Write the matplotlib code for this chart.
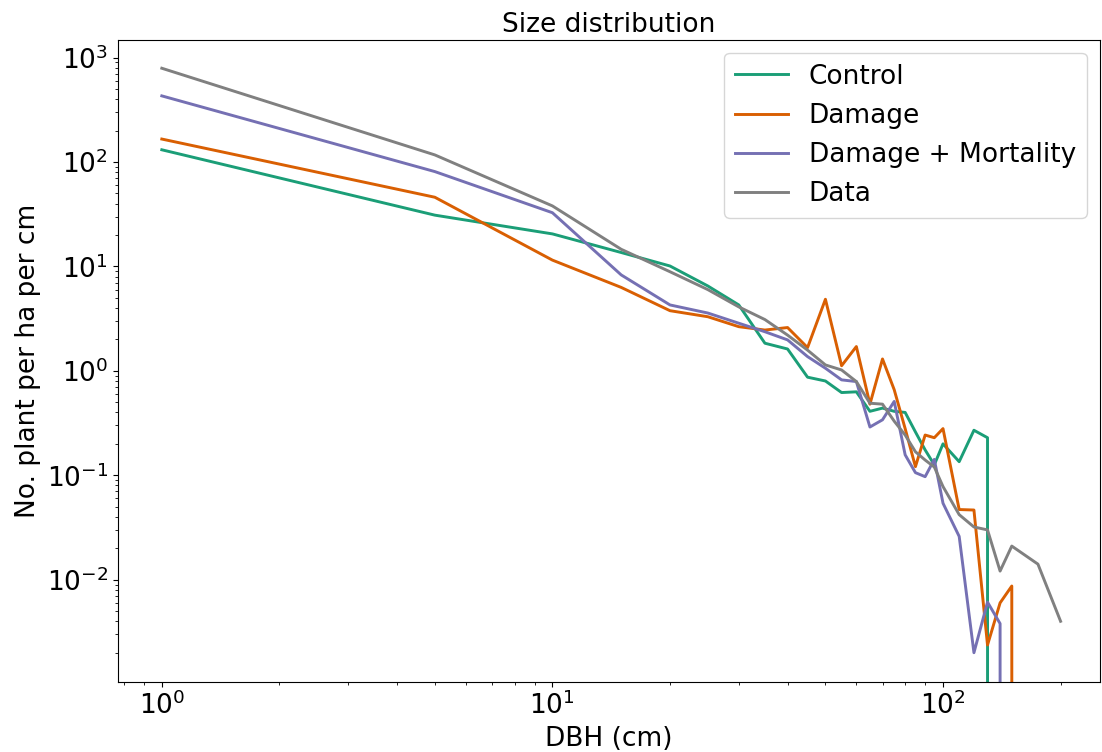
import matplotlib
matplotlib.use("Agg")
import matplotlib.pyplot as plt

# DBH bins (cm)
dbh = [1, 5, 10, 15, 20, 25, 30, 35, 40, 45, 50, 55, 60, 65, 70, 75, 80,
       85, 90, 95, 100, 110, 120, 130, 140, 150, 175, 200]

control = [131, 31, 20.5, 13.6, 10.1, 6.5, 4.28, 1.84, 1.62, 0.87, 0.80,
           0.62, 0.63, 0.41, 0.44, 0.41, 0.40, 0.26, 0.175, 0.126, 0.20,
           0.135, 0.27, 0.229, 0, 0, 0, 0]
damage = [166, 46, 11.5, 6.3, 3.77, 3.3, 2.65, 2.46, 2.6, 1.67, 4.85,
          1.12, 1.71, 0.48, 1.3, 0.66, 0.28, 0.121, 0.243, 0.229, 0.28,
          0.047, 0.0465, 0.00237, 0.0060, 0.0087, 0, 0]
damage_mort = [430, 81, 32.7, 8.3, 4.28, 3.58, 2.86, 2.37, 1.98, 1.37,
               1.06, 0.82, 0.79, 0.29, 0.34, 0.51, 0.157, 0.106, 0.097,
               0.142, 0.054, 0.026, 0.002, 0.0061, 0.0038, 0, 0, 0]
data = [791, 117, 38, 14.6, 8.9, 6.0, 4.1, 3.1, 2.2, 1.58, 1.14, 1.02,
        0.79, 0.49, 0.48, 0.33, 0.243, 0.168, 0.14, 0.12, 0.078, 0.042,
        0.032, 0.030, 0.0121, 0.021, 0.0141, 0.004]

plt.rcParams['font.size'] = 19

fig = plt.figure(figsize=(11.02, 7.52), dpi=100)
ax = fig.add_axes([0.107, 0.093, 0.891, 0.854])

ax.plot(dbh, control, color="#1b9e77", lw=2.1, label="Control")
ax.plot(dbh, damage, color="#d95f02", lw=2.1, label="Damage")
ax.plot(dbh, damage_mort, color="#7570b3", lw=2.1, label="Damage + Mortality")
ax.plot(dbh, data, color="#808080", lw=2.1, label="Data")

ax.set_xscale("log")
ax.set_yscale("log")
ax.set_xlim(0.772, 252)
ax.set_ylim(1.047e-3, 1479)

ax.set_title("Size distribution", fontsize=19)
ax.set_xlabel("DBH (cm)")
ax.set_ylabel("No. plant per ha per cm")
ax.legend(loc="upper right", fontsize=19)

fig.savefig("out.png", dpi=100)
